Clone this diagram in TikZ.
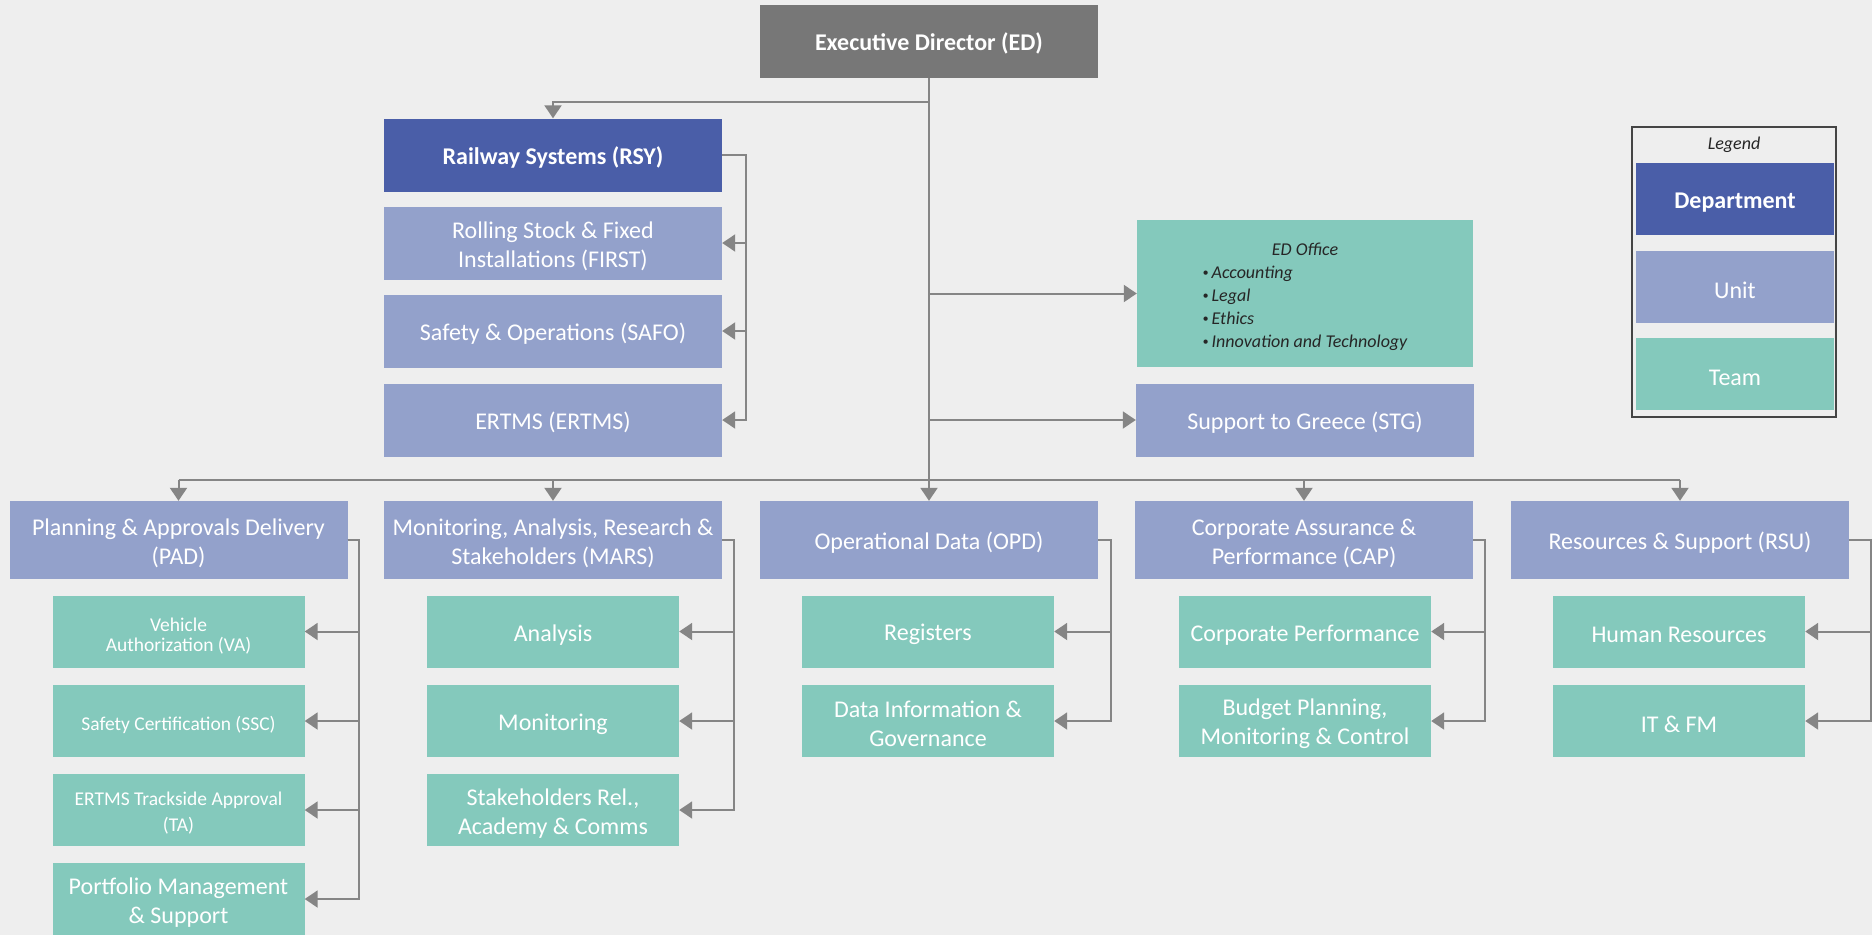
\documentclass[tikz,border=0pt]{standalone}
\usepackage{fontspec}
\setmainfont{Carlito}
\usetikzlibrary{arrows.meta, positioning}

\definecolor{bggray}{HTML}{EEEEEE}
\definecolor{edgray}{HTML}{777777}
\definecolor{deptblue}{HTML}{4A5EA8}
\definecolor{unitblue}{HTML}{93A1CB}
\definecolor{teamgreen}{HTML}{84C9BC}
\definecolor{linegray}{HTML}{858585}
\definecolor{framegray}{HTML}{444444}

\newcommand{\orgbig}{\fontsize{24}{29}\selectfont}
\newcommand{\orgsmall}{\fontsize{19.5}{23}\selectfont}
\newcommand{\orgup}{\rule{0pt}{23pt}}% first-line strut for two-line boxes
\newcommand{\edbullet}{{\fontsize{12}{12}\selectfont\raisebox{2.2pt}{\textbullet}}\,}

\begin{document}
\begin{tikzpicture}[
  x=1pt, y=-1pt,
  box/.style={rectangle, inner sep=0pt, align=center, text=white, font=\orgbig,
    minimum width=338pt, minimum height=73pt,
    execute at begin node={\rule{0pt}{23pt}}},
  director/.style={box, fill=edgray, font=\orgbig\bfseries},
  dept/.style={box, fill=deptblue, font=\orgbig\bfseries},
  unit/.style={box, fill=unitblue},
  unitrow/.style={unit, minimum height=78pt},
  team/.style={box, fill=teamgreen, minimum width=252pt, minimum height=72pt},
  wire/.style={draw=linegray, line width=2pt},
  link/.style={wire, -{Triangle[length=13pt, width=17pt]}}
]
  \fill[bggray] (0,0) rectangle (1872,935);
  \useasboundingbox (0,0) rectangle (1872,935);

  % top level
  \node[director] (ED) at (929,41) {Executive Director (ED)};

  % railway systems
  \node[dept] (RSY) at (553,155) {Railway Systems (RSY)};
  \node[unit] (FIRST) at (553,243) {\orgup Rolling Stock \& Fixed\\Installations (FIRST)};
  \node[unit] (SAFO) at (553,331) {Safety \& Operations (SAFO)};
  \node[unit] (ERTMS) at (553,420) {ERTMS (ERTMS)};

  % ED office and STG
  \node[team, minimum width=336pt, minimum height=147pt, text=black!85,
        font=\fontsize{18}{23}\selectfont\itshape, execute at begin node={}] (EDO) at (1305,293.5)
    {\begin{tabular}{@{}l@{}}\multicolumn{1}{c}{\rule{0pt}{23pt}ED Office}\\
     \edbullet Accounting\\ \edbullet Legal\\ \edbullet Ethics\\
     \edbullet Innovation and Technology\end{tabular}};
  \node[unit] (STG) at (1305,420) {Support to Greece (STG)};

  % units
  \node[unitrow] (PAD) at (178.5,540) {\orgup Planning \& Approvals Delivery\\(PAD)};
  \node[unitrow] (MARS) at (553,540) {\orgup Monitoring, Analysis, Research \&\\Stakeholders (MARS)};
  \node[unitrow] (OPD) at (929,540) {Operational Data (OPD)};
  \node[unitrow] (CAP) at (1304,540) {\orgup Corporate Assurance \&\\Performance (CAP)};
  \node[unitrow] (RSU) at (1680,540) {Resources \& Support (RSU)};

  % teams
  \node[team, font=\fontsize{19.5}{19.5}\selectfont] (VA) at (178.5,631.5) {\orgup Vehicle\\Authorization (VA)};
  \node[team, font=\orgsmall] (SSC) at (178.5,721) {Safety Certification (SSC)};
  \node[team, font=\fontsize{19.5}{26}\selectfont] (TA) at (178.5,810) {\rule{0pt}{19.5pt}ERTMS Trackside Approval\\(TA)};
  \node[team] (PMS) at (178.5,899) {\orgup Portfolio Management\\\& Support};
  \node[team] (ANA) at (553,631.5) {Analysis};
  \node[team] (MON) at (553,721) {Monitoring};
  \node[team] (SRA) at (553,810) {\orgup Stakeholders Rel.,\\Academy \& Comms};
  \node[team] (REG) at (928,631.5) {Registers};
  \node[team] (DIG) at (928,721) {\orgup Data Information \&\\Governance};
  \node[team] (CPE) at (1305,631.5) {Corporate Performance};
  \node[team] (BPM) at (1305,721) {\orgup Budget Planning,\\Monitoring \& Control};
  \node[team] (HR) at (1679,631.5) {Human Resources};
  \node[team] (ITFM) at (1679,721) {IT \& FM};

  % legend
  \node[draw=framegray, line width=1.5pt, minimum width=204pt, minimum height=290pt] (LEG) at (1734,272) {};
  \node[font=\fontsize{18}{22}\selectfont\itshape, text=black!85] (LEGT) at (1734,144.5) {Legend};
  \node[dept, minimum width=198pt, minimum height=72pt] (LDEP) at (1735,199) {Department};
  \node[unit, minimum width=198pt, minimum height=72pt] (LUNIT) at (1735,287) {Unit};
  \node[team, minimum width=198pt, minimum height=72pt] (LTEAM) at (1735,374) {Team};

  % connectors from the director
  \draw[link] (ED) -- (OPD);
  \coordinate (rsyturn) at (929,101.5);
  \draw[link] (rsyturn) -| (RSY);
  \draw[link] (ED |- EDO) -- (EDO);
  \draw[link] (ED |- STG) -- (STG);
  \coordinate (bar) at (929,480);
  \draw[wire] (PAD |- bar) -- (RSU |- bar);
  \foreach \u in {PAD,MARS,CAP,RSU}
    \draw[link] (\u |- bar) -- (\u);

  % brackets to the children
  \foreach \c in {FIRST,SAFO,ERTMS}
    \draw[link] (RSY.east) -- ++(24,0) |- (\c.east);
  \foreach \u/\kids/\gap in {PAD/{VA,SSC,TA,PMS}/11, MARS/{ANA,MON,SRA}/12,
      OPD/{REG,DIG}/13, CAP/{CPE,BPM}/12, RSU/{HR,ITFM}/22}
    \foreach \c in \kids
      \draw[link] (\u.east) -- ++(\gap,0) |- (\c.east);
\end{tikzpicture}
\end{document}
